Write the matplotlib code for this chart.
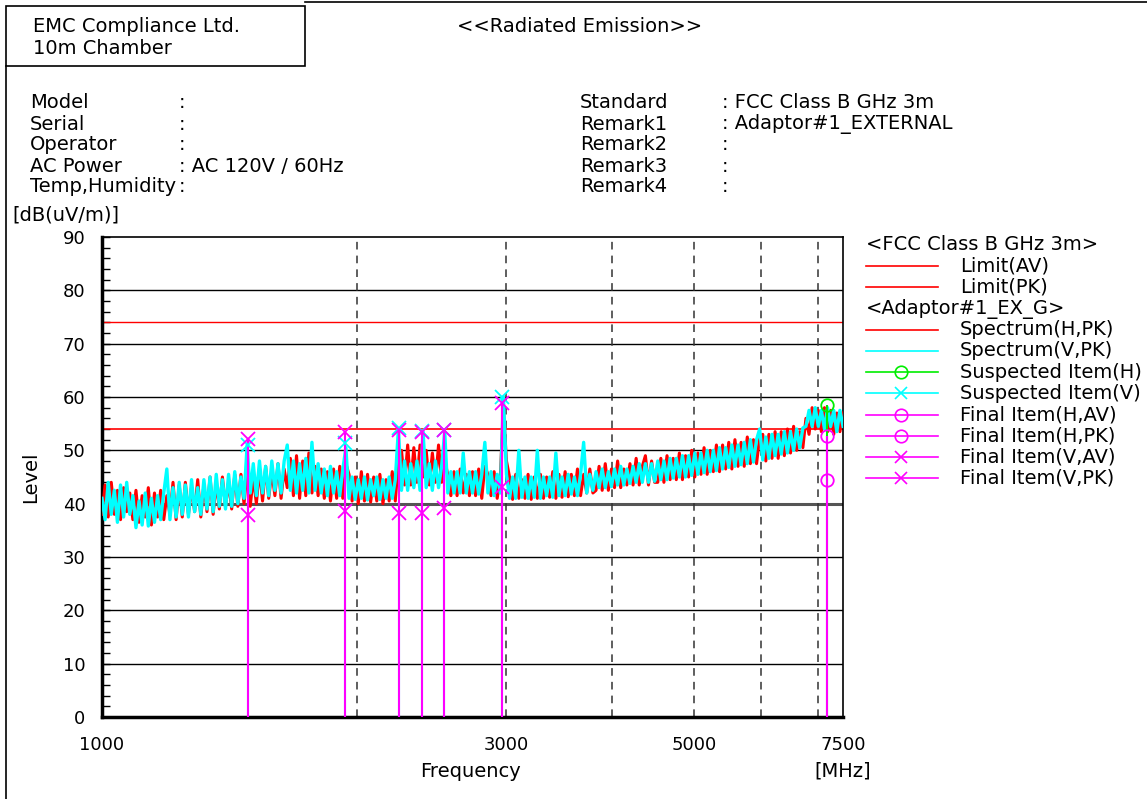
import numpy as np
import matplotlib
matplotlib.use('Agg')
import matplotlib.pyplot as plt
from matplotlib.patches import Rectangle

plt.rcParams['font.family'] = ['DejaVu Sans']
plt.rcParams['font.size'] = 14

# ---- data ----
limit_av = 54.0
limit_pk = 74.0

# sweep levels, dB(uV/m), log-spaced sweep points 1000..7500 MHz
spec_v = [
    41.0, 37.0, 44.0, 38.0, 42.5, 36.5, 43.5, 37.5, 44.0, 38.0, 41.5, 35.5, 40.5, 36.0, 42.0, 35.8, 41.0, 36.5, 41.5, 37.0,
    42.0, 46.5, 37.0, 43.0, 37.5, 44.0, 38.0, 43.5, 37.5, 44.5, 38.5, 43.0, 38.0, 44.5, 39.0, 45.0, 38.5, 45.5, 39.5, 44.5,
    39.0, 45.5, 39.5, 46.0, 40.0, 45.0, 41.0, 51.0, 42.0, 47.5, 41.5, 48.0, 42.0, 47.0, 41.5, 48.0, 42.5, 47.5, 42.0, 48.0,
    51.0, 42.5, 48.0, 42.0, 47.5, 42.5, 48.5, 42.0, 51.5, 42.5, 47.5, 42.0, 46.5, 41.5, 47.0, 42.0, 46.0, 41.5, 46.5, 50.5,
    41.0, 45.0, 40.8, 44.5, 41.0, 45.0, 40.7, 44.5, 41.5, 45.0, 40.8, 44.5, 41.0, 45.0, 41.0, 44.5, 54.0, 42.5, 48.0, 42.5,
    47.5, 43.0, 48.0, 42.5, 53.5, 43.0, 47.5, 42.5, 48.0, 43.0, 47.0, 53.5, 42.0, 46.0, 42.0, 46.0, 42.0, 49.5, 42.0, 46.0,
    42.0, 46.0, 41.8, 45.5, 51.5, 42.0, 46.0, 41.5, 45.5, 42.0, 60.0, 45.5, 41.0, 45.0, 41.0, 50.0, 41.2, 45.0, 41.0, 45.0,
    41.2, 50.0, 41.0, 45.0, 41.5, 45.0, 41.2, 49.5, 41.5, 45.0, 41.5, 45.5, 41.8, 45.0, 41.5, 45.5, 51.5, 42.0, 45.5, 42.5,
    46.0, 43.0, 46.5, 43.0, 46.0, 43.2, 46.5, 43.5, 47.0, 43.5, 46.5, 43.8, 47.0, 44.0, 47.5, 44.0, 47.5, 44.0, 47.5, 44.2,
    48.0, 44.5, 48.0, 44.5, 48.5, 44.8, 48.5, 45.0, 49.0, 45.0, 49.0, 45.3, 49.5, 45.5, 49.5, 45.8, 50.0, 46.0, 50.0, 46.2,
    50.5, 46.5, 50.5, 46.8, 51.0, 47.0, 51.0, 47.3, 51.5, 47.5, 52.0, 47.8, 52.0, 54.0, 48.2, 52.5, 48.5, 53.0, 49.0, 53.0,
    49.3, 53.5, 49.5, 53.5, 50.0, 54.0, 50.5, 54.2, 54.5, 57.5, 54.5, 58.0, 54.5, 57.5, 54.0, 58.0, 54.5, 57.5, 53.5, 57.5, 54.5,
]
spec_h = [
    38.0, 43.5, 37.5, 44.0, 38.0, 42.5, 37.0, 43.0, 38.5, 42.0, 37.0, 42.5, 36.5, 41.5, 37.5, 43.0, 36.0, 42.0, 37.5, 42.5,
    37.0, 41.5, 38.0, 44.0, 37.0, 43.5, 37.5, 44.0, 38.0, 43.0, 38.5, 44.5, 37.5, 43.5, 38.5, 45.0, 38.0, 44.0, 39.0, 45.0,
    39.5, 44.0, 39.0, 45.5, 39.5, 45.5, 40.0, 46.0, 39.5, 45.0, 40.0, 46.5, 40.5, 47.0, 41.0, 46.0, 41.5, 47.5, 41.0, 46.5,
    43.0, 48.5, 41.5, 49.0, 41.0, 48.0, 41.5, 49.5, 42.0, 47.0, 41.5, 46.5, 41.0, 46.0, 40.5, 46.5, 41.0, 47.0, 41.0, 47.5,
    45.5, 40.5, 45.0, 40.0, 46.0, 40.5, 45.5, 40.3, 45.0, 40.5, 45.5, 40.0, 44.5, 40.5, 46.0, 40.5, 48.0, 50.0, 43.5, 51.0,
    43.5, 50.5, 44.0, 51.0, 45.0, 50.0, 43.5, 49.5, 44.0, 51.0, 44.0, 48.0, 45.5, 41.5, 46.0, 41.5, 46.5, 42.0, 45.5, 41.5,
    46.0, 41.5, 46.5, 41.0, 47.0, 45.5, 41.5, 46.0, 41.0, 45.0, 58.0, 48.0, 45.0, 40.8, 45.5, 41.0, 44.5, 41.0, 45.5, 40.8,
    45.0, 41.0, 45.5, 41.0, 45.0, 41.2, 46.0, 41.0, 45.5, 41.2, 46.0, 41.3, 45.5, 41.5, 46.5, 41.5, 45.5, 42.0, 46.5, 42.0,
    42.5, 47.0, 42.5, 47.5, 42.5, 46.5, 43.0, 48.0, 43.0, 46.5, 43.5, 47.5, 43.5, 48.5, 43.5, 47.0, 49.0, 43.5, 48.0, 44.0,
    44.0, 48.5, 44.0, 49.0, 44.5, 48.5, 44.5, 49.5, 44.5, 49.0, 45.0, 50.0, 45.0, 49.5, 45.5, 50.5, 45.5, 50.0, 46.0, 51.0,
    46.0, 51.0, 46.5, 51.5, 46.5, 52.0, 47.0, 51.5, 47.0, 52.5, 47.5, 52.0, 47.5, 52.5, 53.0, 48.0, 53.0, 48.5, 53.5, 48.5,
    53.5, 49.0, 54.0, 49.5, 54.5, 50.0, 53.5, 50.5, 56.0, 53.0, 58.0, 54.0, 57.5, 53.5, 58.0, 53.5, 57.5, 53.0, 57.0, 53.5, 57.0,
]
freq_v = np.geomspace(1000, 7500, len(spec_v))
freq_h = np.geomspace(1000, 7500, len(spec_h))

# suspected / final items
susp_v_freq = [1487, 1936, 2242, 2387, 2534, 2967]
susp_v_lvl = [51.0, 51.3, 54.2, 53.6, 53.8, 60.0]
final_v_freq = [1487, 1936, 2242, 2387, 2534, 2967]
final_v_pk = [52.1, 53.4, 53.8, 53.5, 53.8, 58.8]
final_v_av = [37.9, 38.7, 38.2, 38.2, 39.1, 43.2]
susp_h_freq = [7180]
susp_h_lvl = [58.5]
final_h_freq = [7180]
final_h_pk = [52.6]
final_h_av = [44.4]

xticks = [1000, 3000, 5000, 7500]
xgrid = [2000, 3000, 4000, 5000, 6000, 7000]

RED = '#ff0000'
CYAN = '#00ffff'
GREEN = '#00ee00'
MAG = '#ff00ff'

W, H = 1147, 799
fig = plt.figure(figsize=(W / 100, H / 100), dpi=100)

# overlay for header, frame and legend (pixel coordinates)
ov = fig.add_axes([0, 0, 1, 1])
ov.set_xlim(0, W)
ov.set_ylim(H, 0)
ov.axis('off')

ax = fig.add_axes([102 / W, 1 - 717 / H, 741 / W, 480 / H])
ax.set_xscale('log')
ax.set_xlim(1000, 7500)
ax.set_ylim(0, 90)

for y in range(10, 90, 10):
    if y == 40:
        ax.axhline(y, color='#555555', lw=2.2, zorder=1)
    else:
        ax.axhline(y, color='black', lw=1.0, zorder=1)
for x in xgrid:
    ax.axvline(x, color='#333333', lw=1.1, dashes=(5, 4), zorder=1)

ax.axhline(limit_pk, color=RED, lw=1.0, zorder=2)
ax.axhline(limit_av, color=RED, lw=1.2, zorder=2)

ax.plot(freq_h, spec_h, color=RED, lw=2.2, zorder=3)
ax.plot(freq_v, spec_v, color=CYAN, lw=2.4, zorder=4)

# stems
ax.vlines(susp_v_freq, 0, susp_v_lvl, color=CYAN, lw=1.5, zorder=5)
ax.vlines(susp_h_freq, 0, susp_h_lvl, color=GREEN, lw=1.5, zorder=5)
ax.vlines(final_v_freq, 0, final_v_pk, color=MAG, lw=1.5, zorder=6)
ax.vlines(final_h_freq, 0, final_h_pk, color=MAG, lw=1.5, zorder=6)

ax.plot(susp_v_freq, susp_v_lvl, 'x', color=CYAN, ms=10, mew=1.3, zorder=7)
ax.plot(final_v_freq, final_v_pk, 'x', color=MAG, ms=10, mew=1.3, zorder=8)
ax.plot(final_v_freq, final_v_av, 'x', color=MAG, ms=10, mew=1.3, zorder=8)
ax.plot(susp_h_freq, susp_h_lvl, 'o', color=GREEN, mfc='none', ms=9, mew=1.3, zorder=7)
ax.plot(final_h_freq, final_h_pk, 'o', color=MAG, mfc='none', ms=9, mew=1.3, zorder=8)
ax.plot(final_h_freq, final_h_av, 'o', color=MAG, mfc='none', ms=9, mew=1.3, zorder=8)

ax.set_xticks(xticks)
ax.set_xticklabels([str(t) for t in xticks])
ax.xaxis.set_minor_locator(matplotlib.ticker.NullLocator())
ax.tick_params(axis='x', length=0, pad=14, labelsize=13)
ax.set_yticks(range(0, 91, 10))
ax.set_yticks(range(0, 91, 2), minor=True)
ax.tick_params(axis='y', which='major', direction='in', length=6, width=1, pad=12, labelsize=13)
ax.tick_params(axis='y', which='minor', direction='in', length=6, width=1)
ax.set_xlabel('Frequency', fontsize=14)
ax.set_ylabel('Level', fontsize=14)
ax.xaxis.set_label_coords((471 - 102) / 741, -(762 - 717) / 480)
ax.yaxis.set_label_coords(-(102 - 40) / 741, (717 - 477) / 480)
ax.spines['left'].set_linewidth(2.5)
ax.spines['bottom'].set_linewidth(2.5)
ax.spines['top'].set_linewidth(1.2)
ax.spines['right'].set_linewidth(1.2)

ov.text(843, 771, '[MHz]', ha='center', va='center', fontsize=14)
ov.text(12, 215, '[dB(uV/m)]', ha='left', va='center', fontsize=14)

# frame and header
ov.add_patch(Rectangle((6, 6), 299, 60, fill=False, lw=1.2, ec='black'))
ov.plot([305, W], [1.5, 1.5], color='black', lw=1.2)
ov.plot([6, 6], [66, H], color='black', lw=1.2)
ov.text(33, 27, 'EMC Compliance Ltd.', ha='left', va='center')
ov.text(33, 48, '10m Chamber', ha='left', va='center')
ov.text(580, 26, '<<Radiated Emission>>', ha='center', va='center')

left_keys = ['Model', 'Serial', 'Operator', 'AC Power', 'Temp,Humidity']
left_vals = [':', ':', ':', ': AC 120V / 60Hz', ':']
right_keys = ['Standard', 'Remark1', 'Remark2', 'Remark3', 'Remark4']
right_vals = [': FCC Class B GHz 3m', ': Adaptor#1_EXTERNAL', ':', ':', ':']
rows_y = [103, 124, 145, 166, 186]
for k, v, y in zip(left_keys, left_vals, rows_y):
    ov.text(30, y, k, ha='left', va='center')
    ov.text(179, y, v, ha='left', va='center')
for k, v, y in zip(right_keys, right_vals, rows_y):
    ov.text(580, y, k, ha='left', va='center')
    ov.text(722, y, v, ha='left', va='center')

# legend
leg = [
    ('<FCC Class B GHz 3m>', None, None),
    ('Limit(AV)', RED, None),
    ('Limit(PK)', RED, None),
    ('<Adaptor#1_EX_G>', None, None),
    ('Spectrum(H,PK)', RED, None),
    ('Spectrum(V,PK)', CYAN, None),
    ('Suspected Item(H)', GREEN, 'o'),
    ('Suspected Item(V)', CYAN, 'x'),
    ('Final Item(H,AV)', MAG, 'o'),
    ('Final Item(H,PK)', MAG, 'o'),
    ('Final Item(V,AV)', MAG, 'x'),
    ('Final Item(V,PK)', MAG, 'x'),
]
for i, (label, col, mk) in enumerate(leg):
    y = 245 + i * 21.2
    if col is None:
        ov.text(866, y, label, ha='left', va='center')
        continue
    ov.plot([866, 938], [y, y], color=col, lw=1.2)
    if mk is not None:
        ov.plot([901], [y], mk, color=col, mfc='none', ms=9, mew=1.2)
    ov.text(960, y, label, ha='left', va='center')

fig.savefig('out.png', dpi=100)
